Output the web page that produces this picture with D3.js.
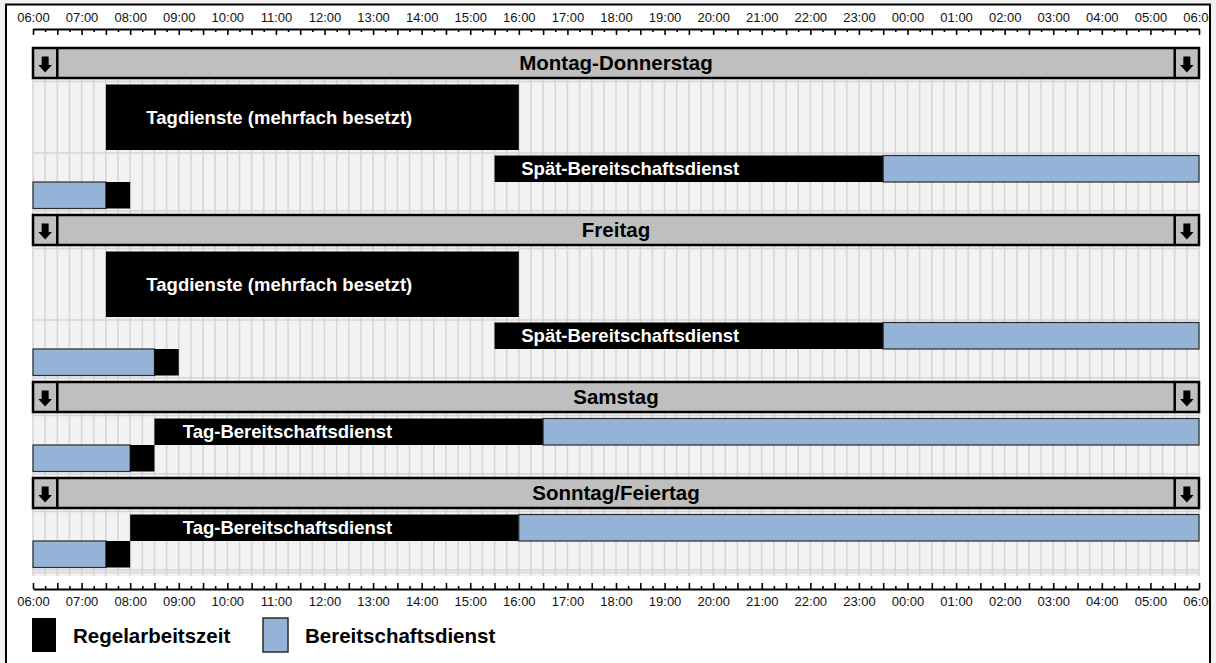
<!DOCTYPE html>
<html>
<head>
<meta charset="utf-8">
<script src="https://cdn.jsdelivr.net/npm/d3@7"></script>
<style>
body { margin: 0; background: #f0f0f0; }
svg { display: block; font-family: Arial, "Liberation Sans", sans-serif; }
</style>
</head>
<body>
<svg width="1216" height="663"></svg>
<script>
// Dienstschema - 24h ab 06:00 bis 06:00 Folgetag

var tage = ["Montag-Donnerstag", "Freitag", "Samstag", "Sonntag/Feiertag"];

// Hauptdienst am Tag
var tagDienst = ["Tagdienste (mehrfach besetzt)", "Tagdienste (mehrfach besetzt)", "Tag-Bereitschaftsdienst", "Tag-Bereitschaftsdienst"];
var tagBeginn = ["07:30", "07:30", "08:30", "08:00"];
var tagRegelEnde = ["16:00", "16:00", "16:30", "16:00"];
var tagEnde = ["16:00", "16:00", "06:00", "06:00"];
var tagLabelBei = ["08:20", "08:20", "09:05", "09:05"];
var mehrfach = [true, true, false, false];

// Spaetdienst (nur Mo-Fr)
var spaetDienst = ["Spät-Bereitschaftsdienst", "Spät-Bereitschaftsdienst", null, null];
var spaetBeginn = ["15:30", "15:30", null, null];
var spaetRegelEnde = ["23:30", "23:30", null, null];
var spaetEnde = ["06:00", "06:00", null, null];
var spaetLabelBei = ["16:03", "16:03", null, null];

// Uebergang aus der Vornacht: Bereitschaft bis, dann Regelarbeit bis
var nachtBereitBis = ["07:30", "08:30", "08:00", "07:30"];
var nachtRegelBis = ["08:00", "09:00", "08:30", "08:00"];

var legende = ["Regelarbeitszeit", "Bereitschaftsdienst"];

var BLAU = "#95b3d7", SCHWARZ = "#000";

// Minuten ab 06:00
function min(s, ende) {
  var p = s.split(":"), m = (+p[0] * 60 + +p[1] - 360 + 1440) % 1440;
  if (ende && m == 0) m = 1440;
  return m;
}
function fmt(m) {
  var h = (Math.floor(m / 60) + 6) % 24;
  return (h < 10 ? "0" : "") + h + ":00";
}

var svg = d3.select("svg");

svg.append("clipPath").attr("id", "rahmen")
  .append("rect").attr("x", 7).attr("y", 5.5).attr("width", 1202).attr("height", 700);

svg.append("rect")
  .attr("x", 6).attr("y", 4.5).attr("width", 1204).attr("height", 700)
  .attr("fill", "#fff").attr("stroke", "#000").attr("stroke-width", 2);

var g = svg.append("g").attr("clip-path", "url(#rahmen)");

var x = d3.scaleLinear().domain([0, 1440]).range([33, 1199]);
var viertel = d3.range(0, 1441, 15);

// Zeilen-Layout
var kopfH = 30, balkenH = 26.5, blockH = 65.5;
var layout = [], y0 = 48;
tage.forEach(function(t, i) {
  var l = {kopf: y0};
  var y = y0 + kopfH + 6.5;
  l.tag = y;
  l.tagH = mehrfach[i] ? blockH : balkenH;
  y += l.tagH;
  l.linien = [y0 + kopfH + 3.5];
  if (spaetDienst[i]) {
    l.linien.push(y + 3);
    y += 5.5;
    l.spaet = y;
    y += balkenH;
  }
  l.nacht = y;
  y += balkenH;
  l.linien.push(y + 2.5);
  layout.push(l);
  y0 = y + 6.5;
});
var plotUnten = 576;

// Hintergrund + Gitter
g.append("rect")
  .attr("x", x(0)).attr("y", 48)
  .attr("width", x(1440) - x(0)).attr("height", plotUnten - 48)
  .attr("fill", "#f2f2f2");

g.append("g").selectAll("line")
  .data(viertel)
  .enter().append("line")
  .attr("x1", function(d) { return x(d); })
  .attr("x2", function(d) { return x(d); })
  .attr("y1", 48).attr("y2", plotUnten)
  .attr("stroke", "#d6d6d6").attr("stroke-width", 1.6);

var hLinien = [];
layout.forEach(function(l) { hLinien = hLinien.concat(l.linien); });
hLinien.push(572.5);
g.append("g").selectAll("line")
  .data(hLinien)
  .enter().append("line")
  .attr("x1", x(0)).attr("x2", x(1440))
  .attr("y1", function(d) { return d; })
  .attr("y2", function(d) { return d; })
  .attr("stroke", "#d6d6d6").attr("stroke-width", 1.6);

// Segmente sammeln
var segmente = [], labels = [];
tage.forEach(function(t, i) {
  var l = layout[i];
  segmente.push({y: l.tag, h: l.tagH, a: min(tagBeginn[i]), b: min(tagRegelEnde[i], true), farbe: SCHWARZ});
  if (min(tagEnde[i], true) > min(tagRegelEnde[i], true))
    segmente.push({y: l.tag, h: l.tagH, a: min(tagRegelEnde[i]), b: min(tagEnde[i], true), farbe: BLAU});
  labels.push({y: l.tag + l.tagH / 2, a: min(tagLabelBei[i]), text: tagDienst[i]});

  if (spaetDienst[i]) {
    segmente.push({y: l.spaet, h: balkenH, a: min(spaetBeginn[i]), b: min(spaetRegelEnde[i], true), farbe: SCHWARZ});
    segmente.push({y: l.spaet, h: balkenH, a: min(spaetRegelEnde[i]), b: min(spaetEnde[i], true), farbe: BLAU});
    labels.push({y: l.spaet + balkenH / 2, a: min(spaetLabelBei[i]), text: spaetDienst[i]});
  }

  segmente.push({y: l.nacht, h: balkenH, a: 0, b: min(nachtBereitBis[i], true), farbe: BLAU});
  segmente.push({y: l.nacht, h: balkenH, a: min(nachtBereitBis[i]), b: min(nachtRegelBis[i], true), farbe: SCHWARZ});
});

g.append("g").selectAll("rect")
  .data(segmente)
  .enter().append("rect")
  .attr("x", function(d) { return x(d.a); })
  .attr("y", function(d) { return d.y; })
  .attr("width", function(d) { return x(d.b) - x(d.a); })
  .attr("height", function(d) { return d.h; })
  .attr("fill", function(d) { return d.farbe; })
  .attr("stroke", function(d) { return d.farbe == BLAU ? "#2b2b2b" : "none"; })
  .attr("stroke-width", 1.2);

g.append("g").selectAll("text")
  .data(labels)
  .enter().append("text")
  .attr("x", function(d) { return x(d.a); })
  .attr("y", function(d) { return d.y; })
  .attr("dy", "0.36em")
  .attr("fill", "#fff")
  .attr("font-size", 18.5)
  .attr("font-weight", "bold")
  .text(function(d) { return d.text; });

// Tageskoepfe
var kopf = g.append("g").selectAll("g")
  .data(tage)
  .enter().append("g")
  .attr("transform", function(d, i) { return "translate(0," + layout[i].kopf + ")"; });

kopf.append("rect")
  .attr("x", x(0)).attr("width", x(1440) - x(0)).attr("height", kopfH)
  .attr("fill", "#bfbfbf").attr("stroke", "#000").attr("stroke-width", 2.5);

kopf.selectAll("line.trenn")
  .data([30, 1410])
  .enter().append("line")
  .attr("x1", function(d) { return x(d); })
  .attr("x2", function(d) { return x(d); })
  .attr("y1", 0).attr("y2", kopfH)
  .attr("stroke", "#000").attr("stroke-width", 2.5);

kopf.selectAll("path.pfeil")
  .data([15, 1425])
  .enter().append("path")
  .attr("transform", function(d) { return "translate(" + x(d) + ",8.5)"; })
  .attr("d", "M-3.5,0H3.5V8.5H6.8L0,16L-6.8,8.5H-3.5Z")
  .attr("fill", "#000");

kopf.append("text")
  .attr("x", x(720))
  .attr("y", kopfH / 2)
  .attr("dy", "0.36em")
  .attr("text-anchor", "middle")
  .attr("font-size", 20.5)
  .attr("font-weight", "bold")
  .text(function(d) { return d; });

// Zeitachsen
function achse(sel, oben) {
  sel.selectAll("path.domain").attr("stroke", "#000").attr("stroke-width", 2);
  sel.selectAll(".tick line")
    .attr("stroke", "#000").attr("stroke-width", 1.6)
    .attr("y2", function(d) { var l = d % 30 == 0 ? 6 : 3; return oben ? l : -l; });
  sel.selectAll(".tick text")
    .attr("font-size", 13).attr("font-family", "Arial, 'Liberation Sans', sans-serif")
    .attr("fill", "#111");
}

var achseOben = g.append("g").attr("transform", "translate(0,29)")
  .call(d3.axisTop(x).tickValues(viertel).tickSizeOuter(0)
    .tickFormat(function(d) { return d % 60 == 0 ? fmt(d) : ""; }));
achse(achseOben, true);
achseOben.selectAll(".tick text").attr("y", -7.5);

var achseUnten = g.append("g").attr("transform", "translate(0,589)")
  .call(d3.axisBottom(x).tickValues(viertel).tickSizeOuter(0)
    .tickFormat(function(d) { return d % 60 == 0 ? fmt(d) : ""; }));
achse(achseUnten, false);
achseUnten.selectAll(".tick text").attr("y", 8);

// Legende
var leg = g.append("g").selectAll("g")
  .data(legende)
  .enter().append("g")
  .attr("transform", function(d, i) { return "translate(" + (i == 0 ? 32 : 263) + ",618)"; });

leg.append("rect")
  .attr("width", function(d, i) { return i == 0 ? 24 : 25; })
  .attr("height", 34)
  .attr("fill", function(d, i) { return i == 0 ? SCHWARZ : BLAU; })
  .attr("stroke", function(d, i) { return i == 0 ? "none" : "#2b2b2b"; })
  .attr("stroke-width", 1.5);

leg.append("text")
  .attr("x", function(d, i) { return i == 0 ? 41 : 42; })
  .attr("y", 17.5)
  .attr("dy", "0.36em")
  .attr("font-size", 20.5)
  .attr("font-weight", "bold")
  .text(function(d) { return d; });
</script>
</body>
</html>
